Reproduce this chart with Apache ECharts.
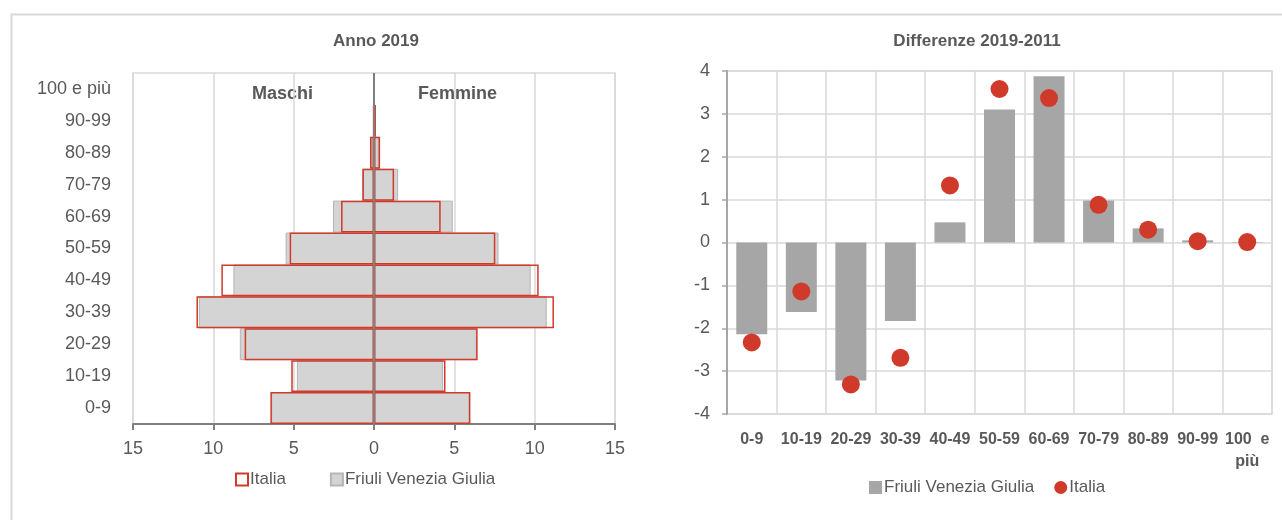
<!DOCTYPE html>
<html>
<head>
<meta charset="utf-8">
<script src="https://cdn.jsdelivr.net/npm/echarts@6/dist/echarts.min.js"></script>
<style>
html,body{margin:0;padding:0;background:#fff;}
#c{width:1282px;height:520px;}
</style>
</head>
<body>
<div id="c"></div>
<script>
// ---- Data ----
const ageClasses = ['0-9','10-19','20-29','30-39','40-49','50-59','60-69','70-79','80-89','90-99','100 e più'];
// Anno 2019 (% composition)
const maleFVG      = [6.4, 4.8, 8.35, 10.9, 8.75, 5.5, 2.55, 0.75, 0.2, 0.03, 0.0];
const femaleFVG    = [5.95, 4.3, 6.4, 10.75, 9.75, 7.75, 4.9, 1.5, 0.3, 0.08, 0.01];
const maleItalia   = [6.45, 5.15, 8.05, 11.05, 9.5, 5.25, 2.05, 0.72, 0.25, 0.05, 0.0];
const femaleItalia = [6.0, 4.45, 6.45, 11.2, 10.25, 7.55, 4.15, 1.25, 0.38, 0.12, 0.01];
// Differenze 2019-2011
const diffLabels = ['0-9','10-19','20-29','30-39','40-49','50-59','60-69','70-79','80-89','90-99','100  e\npiù'];
const diffFVG    = [-2.14, -1.62, -3.22, -1.83, 0.47, 3.10, 3.88, 0.98, 0.33, 0.05, 0.01];
const diffItalia = [-2.33, -1.14, -3.31, -2.69, 1.33, 3.58, 3.37, 0.88, 0.30, 0.03, 0.01];

const FONT = '"Liberation Sans", Arial, sans-serif';
const TXT = '#595959';
const RED = '#cf3a2a';
const GRAY_FILL = '#d4d4d4';
const GRAY_BAR = '#a6a6a6';
const GRID = '#d9d9d9';

const neg = a => a.map(v => -v);

const chart = echarts.init(document.getElementById('c'));
chart.setOption({
  animation: false,
  textStyle: { fontFamily: FONT, color: TXT },
  title: [
    { text: 'Anno 2019', left: 371, top: 28, textAlign: 'center',
      textStyle: { fontFamily: FONT, fontSize: 17, fontWeight: 'bold', color: TXT } },
    { text: 'Differenze 2019-2011', left: 972, top: 28, textAlign: 'center',
      textStyle: { fontFamily: FONT, fontSize: 17, fontWeight: 'bold', color: TXT } }
  ],
  graphic: [
    { type: 'rect', left: 9, top: 12, shape: { x: 0, y: 0, width: 1290, height: 520 },
      style: { fill: 'none', stroke: '#d9d9d9', lineWidth: 2 }, silent: true, z: -1 },
    { type: 'text', left: 252, top: 85, style: { text: 'Maschi', font: 'bold 18px ' + FONT, fill: TXT } },
    { type: 'text', left: 418, top: 85, style: { text: 'Femmine', font: 'bold 18px ' + FONT, fill: TXT } }
  ],
  legend: [
    { data: [{ name: 'Italia', icon: 'rect' }, { name: 'Friuli Venezia Giulia', icon: 'rect' }],
      left: 230, top: 466, itemWidth: 12, itemHeight: 12, itemGap: 44,
      textStyle: { fontFamily: FONT, fontSize: 17, color: TXT, padding: [0, 0, 0, -3] } },
    { data: [{ name: 'FVG diff', icon: 'rect' }, { name: 'Italia diff', icon: 'circle' }],
      left: 864, top: 474, itemWidth: 13, itemHeight: 13, itemGap: 20,
      formatter: n => n === 'FVG diff' ? 'Friuli Venezia Giulia' : 'Italia',
      textStyle: { fontFamily: FONT, fontSize: 17, color: TXT, padding: [0, 0, 0, -3] } }
  ],
  grid: [
    { left: 133, right: 667, top: 73, bottom: 96, show: true, borderColor: GRID, borderWidth: 1.5 },
    { left: 727, right: 10, top: 71, bottom: 106, show: true, borderColor: GRID, borderWidth: 1.5 }
  ],
  xAxis: [
    { type: 'value', gridIndex: 0, min: -15, max: 15, interval: 5,
      axisLine: { show: true, onZero: false, lineStyle: { color: '#7f7f7f', width: 2 } },
      axisTick: { show: true, length: 6, lineStyle: { color: '#7f7f7f', width: 2 } },
      splitLine: { show: true, lineStyle: { color: GRID, width: 1.5 } },
      axisLabel: { formatter: v => String(Math.abs(v)), fontFamily: FONT, fontSize: 18, color: TXT, margin: 16 } },
    { type: 'category', gridIndex: 1, data: diffLabels, boundaryGap: true,
      axisLine: { show: false, onZero: false },
      axisTick: { show: false },
      splitLine: { show: true, interval: 0, lineStyle: { color: GRID, width: 1.5 } },
      axisLabel: { interval: 0, fontFamily: FONT, fontSize: 16, fontWeight: 'bold', color: TXT, margin: 15, lineHeight: 22 } }
  ],
  yAxis: [
    { type: 'category', gridIndex: 0, data: ageClasses,
      axisLine: { show: false, onZero: false }, axisTick: { show: false },
      axisLabel: { fontFamily: FONT, fontSize: 18, color: TXT, margin: 22 } },
    { type: 'value', gridIndex: 1, min: -4, max: 4, interval: 1,
      axisLine: { show: true, lineStyle: { color: '#a6a6a6', width: 2 } },
      axisTick: { show: true, length: 5, lineStyle: { color: '#a6a6a6', width: 1.5 } },
      splitLine: { show: true, lineStyle: { color: GRID, width: 1.5 } },
      axisLabel: { fontFamily: FONT, fontSize: 18, color: TXT, margin: 17 } }
  ],
  series: [
    { name: 'Friuli Venezia Giulia', type: 'bar', xAxisIndex: 0, yAxisIndex: 0, stack: 'fvg',
      data: neg(maleFVG), barCategoryGap: '0%', barGap: '-100%',
      itemStyle: { color: GRAY_FILL, borderColor: '#b5b5b5', borderWidth: 1 } },
    { name: 'Friuli Venezia Giulia', type: 'bar', xAxisIndex: 0, yAxisIndex: 0, stack: 'fvg',
      data: femaleFVG, barCategoryGap: '0%', barGap: '-100%',
      itemStyle: { color: GRAY_FILL, borderColor: '#b5b5b5', borderWidth: 1 } },
    { name: 'Italia', type: 'bar', xAxisIndex: 0, yAxisIndex: 0, stack: 'it',
      data: neg(maleItalia), barCategoryGap: '0%', barGap: '-100%',
      itemStyle: { color: 'rgba(255,255,255,0)', borderColor: RED, borderWidth: 1.5 } },
    { name: 'Italia', type: 'bar', xAxisIndex: 0, yAxisIndex: 0, stack: 'it',
      data: femaleItalia, barCategoryGap: '0%', barGap: '-100%',
      itemStyle: { color: 'rgba(255,255,255,0)', borderColor: RED, borderWidth: 1.5 },
      markLine: { silent: true, symbol: 'none', label: { show: false },
        lineStyle: { color: '#7f7f7f', width: 2, type: 'solid' },
        data: [{ xAxis: 0 }] } },
    { name: 'FVG diff', type: 'bar', xAxisIndex: 1, yAxisIndex: 1, data: diffFVG,
      barWidth: 31, itemStyle: { color: GRAY_BAR } },
    { name: 'Italia diff', type: 'scatter', xAxisIndex: 1, yAxisIndex: 1, data: diffItalia,
      symbol: 'circle', symbolSize: 18, itemStyle: { color: RED, opacity: 1 }, z: 5 }
  ]
});
</script>
</body>
</html>
